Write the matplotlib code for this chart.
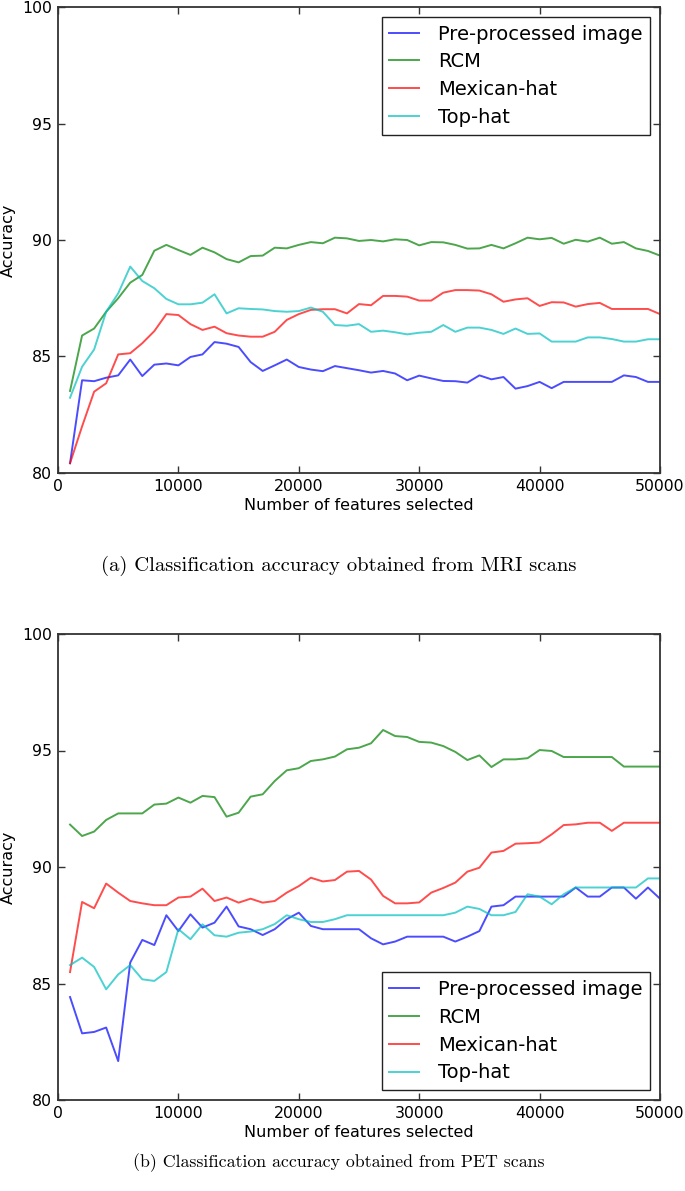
import numpy as np
import matplotlib
matplotlib.use("Agg")
import matplotlib.pyplot as plt

plt.rcParams['font.family'] = ['DejaVu Sans']

features = np.arange(1000, 50001, 1000)
series_names = ["Pre-processed image", "RCM", "Mexican-hat", "Top-hat"]
series_colors = ["b", "g", "r", "c"]

mri_pre = [80.42, 83.98, 83.94, 84.09, 84.19, 84.87, 84.16, 84.65, 84.70, 84.62,
           84.98, 85.09, 85.62, 85.55, 85.41, 84.76, 84.38, 84.62, 84.87, 84.55,
           84.44, 84.37, 84.59, 84.50, 84.41, 84.31, 84.38, 84.27, 83.98, 84.18,
           84.06, 83.95, 83.94, 83.88, 84.19, 84.02, 84.12, 83.62, 83.73, 83.91,
           83.64, 83.91, 83.91, 83.91, 83.91, 83.91, 84.19, 84.12, 83.91, 83.91]
mri_rcm = [83.52, 85.90, 86.20, 86.92, 87.50, 88.17, 88.50, 89.54, 89.79, 89.57,
           89.36, 89.67, 89.47, 89.18, 89.04, 89.31, 89.33, 89.67, 89.64, 89.79,
           89.91, 89.86, 90.10, 90.07, 89.96, 90.00, 89.94, 90.03, 90.00, 89.77,
           89.91, 89.90, 89.79, 89.63, 89.64, 89.79, 89.64, 89.86, 90.10, 90.03,
           90.09, 89.84, 90.01, 89.93, 90.10, 89.84, 89.91, 89.64, 89.53, 89.33]
mri_mex = [80.42, 82.00, 83.49, 83.85, 85.09, 85.14, 85.57, 86.09, 86.82, 86.78,
           86.39, 86.14, 86.28, 86.00, 85.90, 85.85, 85.85, 86.06, 86.57, 86.82,
           87.00, 87.03, 87.03, 86.85, 87.25, 87.20, 87.60, 87.60, 87.57, 87.40,
           87.40, 87.74, 87.85, 87.85, 87.83, 87.67, 87.35, 87.45, 87.50, 87.17,
           87.33, 87.32, 87.14, 87.25, 87.30, 87.04, 87.04, 87.04, 87.04, 86.82]
mri_top = [83.23, 84.56, 85.30, 86.92, 87.71, 88.86, 88.24, 87.93, 87.47, 87.24,
           87.24, 87.31, 87.67, 86.85, 87.07, 87.04, 87.02, 86.95, 86.92, 86.95,
           87.10, 86.92, 86.35, 86.32, 86.39, 86.06, 86.11, 86.04, 85.95, 86.02,
           86.06, 86.35, 86.06, 86.24, 86.24, 86.14, 85.97, 86.20, 85.97, 85.99,
           85.64, 85.64, 85.64, 85.82, 85.82, 85.75, 85.64, 85.64, 85.74, 85.74]

pet_pre = [84.42, 82.86, 82.92, 83.11, 81.67, 85.90, 86.87, 86.65, 87.93, 87.25,
           87.97, 87.40, 87.61, 88.30, 87.45, 87.33, 87.08, 87.33, 87.76, 88.04,
           87.47, 87.33, 87.33, 87.33, 87.33, 86.94, 86.68, 86.80, 87.01, 87.01,
           87.01, 87.01, 86.80, 87.01, 87.25, 88.30, 88.36, 88.73, 88.73, 88.73,
           88.73, 88.73, 89.12, 88.73, 88.73, 89.12, 89.12, 88.64, 89.12, 88.64]
pet_rcm = [91.82, 91.33, 91.52, 92.02, 92.30, 92.30, 92.30, 92.68, 92.72, 92.98,
           92.76, 93.05, 93.00, 92.16, 92.33, 93.02, 93.12, 93.69, 94.15, 94.24,
           94.55, 94.62, 94.74, 95.05, 95.12, 95.31, 95.88, 95.62, 95.58, 95.37,
           95.34, 95.19, 94.94, 94.59, 94.79, 94.29, 94.62, 94.62, 94.67, 95.02,
           94.98, 94.72, 94.72, 94.72, 94.72, 94.72, 94.31, 94.31, 94.31, 94.31]
pet_mex = [85.49, 88.50, 88.23, 89.29, 88.90, 88.54, 88.44, 88.36, 88.36, 88.69,
           88.73, 89.07, 88.54, 88.69, 88.47, 88.64, 88.47, 88.54, 88.90, 89.18,
           89.54, 89.38, 89.44, 89.80, 89.83, 89.46, 88.76, 88.44, 88.44, 88.48,
           88.90, 89.10, 89.33, 89.80, 89.97, 90.62, 90.69, 91.00, 91.02, 91.05,
           91.40, 91.80, 91.83, 91.90, 91.90, 91.55, 91.90, 91.90, 91.90, 91.90]
pet_top = [85.79, 86.11, 85.71, 84.75, 85.39, 85.79, 85.18, 85.11, 85.49, 87.33,
           86.90, 87.54, 87.07, 87.01, 87.18, 87.23, 87.33, 87.55, 87.93, 87.76,
           87.64, 87.64, 87.76, 87.93, 87.93, 87.93, 87.93, 87.93, 87.93, 87.93,
           87.93, 87.93, 88.04, 88.30, 88.20, 87.93, 87.93, 88.07, 88.83, 88.73,
           88.40, 88.83, 89.12, 89.12, 89.12, 89.12, 89.12, 89.12, 89.51, 89.51]

xticks = [0, 10000, 20000, 30000, 40000, 50000]
yticks = [80, 85, 90, 95, 100]
xlabel = "Number of features selected"
ylabel = "Accuracy"
caption_a = "(a) Classification accuracy obtained from MRI scans"
caption_b = "(b) Classification accuracy obtained from PET scans"

W, H = 685, 1191
fig = plt.figure(figsize=(W / 100, H / 100), dpi=100)
fig.patch.set_facecolor("white")


def make_axes(top_px, bottom_px):
    left, right = 58, 660
    return fig.add_axes([left / W, 1 - bottom_px / H, (right - left) / W,
                         (bottom_px - top_px) / H])


def draw(ax, data, legend_loc):
    for vals, name, col in zip(data, series_names, series_colors):
        ax.plot(features, vals, color=col, alpha=0.7, lw=1.4, label=name)
    ax.set_xlim(0, 50000)
    ax.set_ylim(80, 100)
    ax.set_xticks(xticks)
    ax.set_yticks(yticks)
    ax.tick_params(direction="in", top=True, right=True, length=5, width=1,
                   color="#333333", labelsize=11.3, pad=4.5)
    for s in ax.spines.values():
        s.set_color("#333333")
        s.set_linewidth(1.3)
    ax.set_xlabel(xlabel, fontsize=11.5, labelpad=2.5)
    ax.set_ylabel(ylabel, fontsize=11.5, labelpad=4)
    leg = ax.legend(loc=legend_loc, fontsize=14, fancybox=False,
                    edgecolor="#222222", framealpha=1, borderaxespad=0.5,
                    handlelength=1.5, handletextpad=1.0, labelspacing=0.45,
                    borderpad=0.4)
    leg.get_frame().set_linewidth(1.0)


ax1 = make_axes(7, 473)
draw(ax1, [mri_pre, mri_rcm, mri_mex, mri_top], "upper right")
ax2 = make_axes(634, 1100)
draw(ax2, [pet_pre, pet_rcm, pet_mex, pet_top], "lower right")

fig.text(339 / W, 1 - 566 / H, caption_a, family="cmr10", fontsize=14.9,
         ha="center", va="center")
fig.text(339 / W, 1 - 1163 / H, caption_b, family="cmr10", fontsize=12.8,
         ha="center", va="center")

fig.savefig("out.png", dpi=100, facecolor="white")
